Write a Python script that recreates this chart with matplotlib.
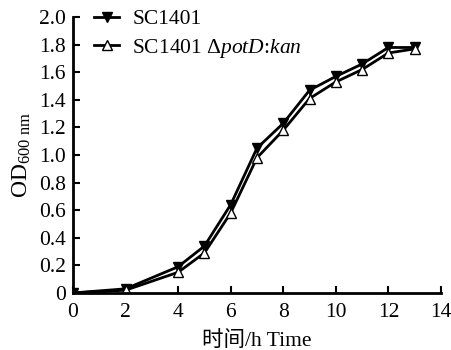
import matplotlib
matplotlib.use('Agg')
import matplotlib.pyplot as plt

plt.rcParams['font.family'] = ['Liberation Serif', 'Noto Sans CJK SC']
plt.rcParams['mathtext.fontset'] = 'custom'
plt.rcParams['mathtext.rm'] = 'Liberation Serif'
plt.rcParams['mathtext.it'] = 'Liberation Serif:italic'

# Data
time_h = [0, 2, 4, 5, 6, 7, 8, 9, 10, 11, 12, 13]
wild = [0.0, 0.03, 0.19, 0.34, 0.64, 1.05, 1.23, 1.47, 1.57, 1.66, 1.78, 1.78]
mutant = [0.0, 0.02, 0.15, 0.29, 0.58, 0.98, 1.18, 1.41, 1.53, 1.62, 1.74, 1.77]
xticks = [0, 2, 4, 6, 8, 10, 12, 14]
yticks = [0, 0.2, 0.4, 0.6, 0.8, 1.0, 1.2, 1.4, 1.6, 1.8, 2.0]
ylabels = ['0', '0.2', '0.4', '0.6', '0.8', '1.0', '1.2', '1.4', '1.6', '1.8', '2.0']

fig = plt.figure(figsize=(4.52, 3.5), dpi=100)
ax = fig.add_axes([0.1615, 0.163, 0.814, 0.788])

ax.plot(time_h, wild, color='black', lw=2, marker='v', ms=7,
        mfc='black', mec='black', label='SC1401')
ax.plot(time_h, mutant, color='black', lw=2, marker='^', ms=7,
        mfc='white', mec='black', mew=1,
        label=r'SC1401 $\Delta\mathit{potD}$:$\mathit{kan}$')

ax.set_xlim(0, 14)
ax.set_ylim(0, 2.0)
ax.set_xticks(xticks)
ax.set_yticks(yticks)
ax.set_yticklabels(ylabels)
ax.tick_params(direction='in', labelsize=15.5, width=1.5, length=5)
ax.tick_params(axis='x', pad=7)
ax.tick_params(axis='y', pad=5)
for s in ['top', 'right']:
    ax.spines[s].set_visible(False)
for s in ['left', 'bottom']:
    ax.spines[s].set_linewidth(2)

ax.set_xlabel('时间/h Time', fontsize=15.5, labelpad=7)
ax.set_ylabel(r'OD$_{\mathregular{600\ nm}}$', fontsize=17, labelpad=4)

ax.legend(loc='upper left', frameon=False, fontsize=15.5, handlelength=1.15,
          borderaxespad=0.0, handletextpad=0.6, labelspacing=0.35,
          bbox_to_anchor=(0.035, 1.06))

fig.savefig('out.png', dpi=100)
